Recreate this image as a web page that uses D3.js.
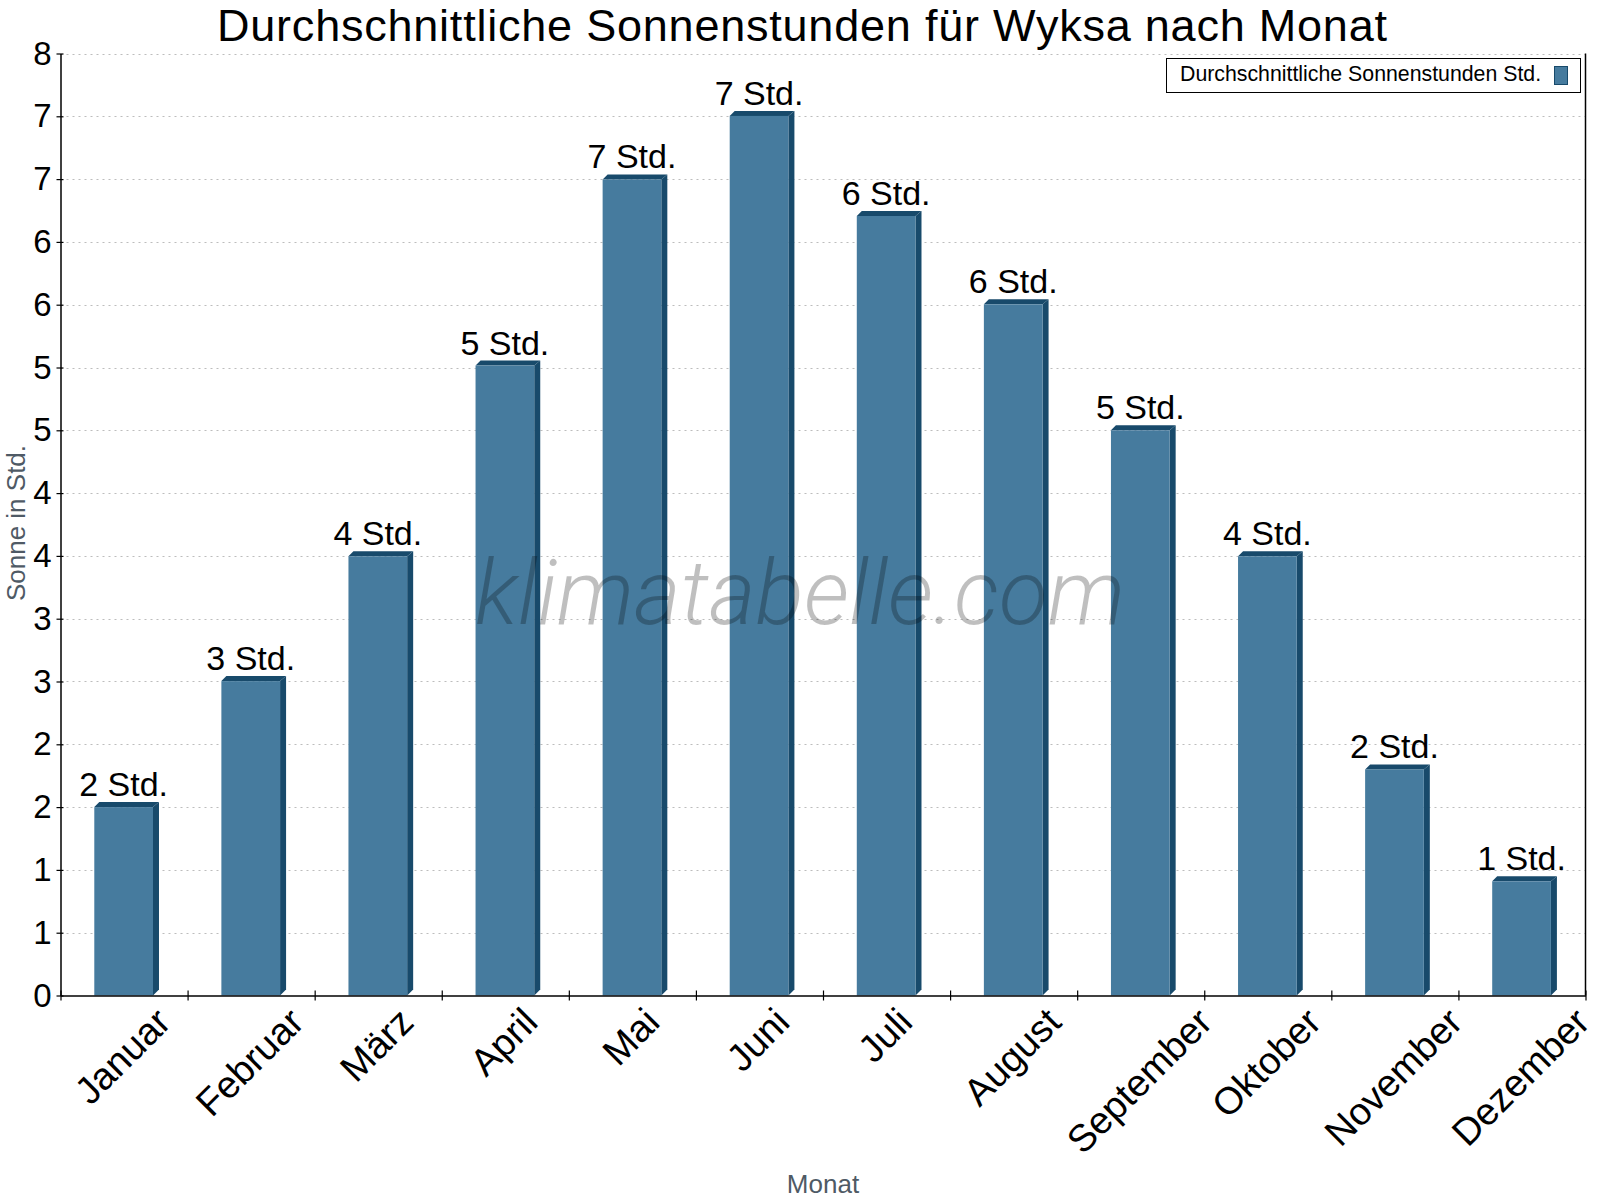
<!DOCTYPE html>
<html>
<head>
<meta charset="utf-8">
<title>Sonnenstunden Wyksa</title>
<script src="https://cdn.jsdelivr.net/npm/d3@7"></script>
<style>
    body { margin: 0; background: #fff; }
    svg { display: block; font-family: "Liberation Sans", Arial, sans-serif; }
</style>
</head>
<body>
<div id="sun_chart"></div>
<script>
// Daten
var months = ['Januar', 'Februar', 'März', 'April', 'Mai', 'Juni', 'Juli', 'August', 'September', 'Oktober', 'November', 'Dezember'];
var sunHours = [1.6, 2.67, 3.73, 5.35, 6.93, 7.47, 6.62, 5.87, 4.8, 3.73, 1.92, 0.97];
var valueLabels = ['2 Std.', '3 Std.', '4 Std.', '5 Std.', '7 Std.', '7 Std.', '6 Std.', '6 Std.', '5 Std.', '4 Std.', '2 Std.', '1 Std.'];
var yTickValues = [0, 0.5333, 1.0667, 1.6, 2.1333, 2.6667, 3.2, 3.7333, 4.2667, 4.8, 5.3333, 5.8667, 6.4, 6.9333, 7.4667, 8];

var W = 1600, H = 1200;
var plotLeft = 60.5, plotRight = 1585.5, plotTop = 53.5, plotBottom = 995.5;
var frontColor = '#467b9e', sideColor = '#184a6b';
var depth = 6;

var svg = d3.select('#sun_chart').append('svg')
    .attr('width', W)
    .attr('height', H);

var x = d3.scaleBand().domain(months).range([plotLeft, plotRight]).padding(0);
var xb = d3.scaleLinear().domain([0, 12]).range([plotLeft, plotRight]);
var y = d3.scaleLinear().domain([0, 8]).range([plotBottom, plotTop]);

// gridlines
svg.append('g').selectAll('line')
    .data(yTickValues.filter(function (d) { return d > 0; }))
    .join('line')
    .attr('x1', plotLeft).attr('x2', plotRight)
    .attr('y1', function (d) { return Math.round(y(d)) + 0.5; })
    .attr('y2', function (d) { return Math.round(y(d)) + 0.5; })
    .attr('stroke', '#bdbdbd')
    .attr('stroke-dasharray', '2,4');

// bars (3D)
var barW = 58.7;
var bars = svg.append('g').selectAll('g')
    .data(months)
    .join('g');

bars.each(function (m, i) {
    var g = d3.select(this);
    var cx = x(m) + x.bandwidth() / 2 - 0.4;
    var x0 = cx - barW / 2, x1 = cx + barW / 2;
    var yt = y(sunHours[i]), yb = y(0);
    g.append('polygon')
        .attr('points', [[x1, yt], [x1 + depth, yt - depth + 1], [x1 + depth, yb - depth], [x1, yb]].join(' '))
        .attr('fill', sideColor);
    g.append('polygon')
        .attr('points', [[x0, yt], [x0 + depth - 1, yt - depth + 1], [x1 + depth, yt - depth + 1], [x1, yt]].join(' '))
        .attr('fill', sideColor);
    g.append('rect')
        .attr('x', x0).attr('y', yt)
        .attr('width', barW).attr('height', yb - yt)
        .attr('fill', frontColor);
    g.append('text')
        .attr('x', cx)
        .attr('y', yt - 11)
        .attr('text-anchor', 'middle')
        .attr('font-size', 34)
        .attr('fill', '#000')
        .text(valueLabels[i]);
});

// watermark (over the bars)
svg.append('text')
    .attr('x', 800)
    .attr('y', 624)
    .attr('text-anchor', 'middle')
    .attr('font-family', 'Roboto, sans-serif')
    .attr('font-weight', 300)
    .attr('font-style', 'italic')
    .attr('font-size', 90)
    .attr('textLength', 650)
    .attr('lengthAdjust', 'spacingAndGlyphs')
    .attr('fill', '#000')
    .attr('fill-opacity', 0.25)
    .text('klimatabelle.com');

// y axis
var yAxis = svg.append('g')
    .attr('transform', 'translate(' + plotLeft + ',0)')
    .call(d3.axisLeft(y).tickValues(yTickValues).tickFormat(d3.format('.0f')).tickSize(4).tickPadding(5).tickSizeOuter(0));
yAxis.select('.domain').attr('stroke', '#000').attr('stroke-width', 1.5);
yAxis.selectAll('.tick line').attr('x1', 3).attr('x2', -4).attr('stroke', '#000').attr('stroke-width', 1.2);
yAxis.selectAll('.tick text').attr('font-size', 33).attr('font-family', '"Liberation Sans", Arial, sans-serif').attr('fill', '#000');

// x axis
var xAxis = svg.append('g')
    .attr('transform', 'translate(0,' + plotBottom + ')')
    .call(d3.axisBottom(xb).tickValues(d3.range(13)).tickFormat('').tickSize(5).tickSizeOuter(0));
xAxis.select('.domain').attr('stroke', '#000').attr('stroke-width', 1.5);
xAxis.selectAll('.tick line').attr('y1', -5).attr('y2', 5).attr('stroke', '#000').attr('stroke-width', 1.2);

// rechter Rand
svg.append('line')
    .attr('x1', plotRight).attr('x2', plotRight)
    .attr('y1', plotTop).attr('y2', plotBottom)
    .attr('stroke', '#000').attr('stroke-width', 1.5);

// x labels, rotated -45, box centered under the band
var xLabelSize = 38, labelTop = 1005;
svg.append('g').selectAll('text')
    .data(months)
    .join('text')
    .attr('text-anchor', 'middle')
    .attr('font-size', xLabelSize)
    .attr('fill', '#000')
    .attr('dy', xLabelSize * 0.36)
    .text(function (d) { return d; })
    .each(function (d) {
        var L = this.getComputedTextLength();
        var half = 0.7071 * (L + xLabelSize * 0.72) / 2;
        var cx = x(d) + x.bandwidth() / 2 - 2;
        var cy = labelTop + half;
        d3.select(this).attr('transform', 'translate(' + cx + ',' + cy + ') rotate(-45)');
    });

// titles
svg.append('text')
    .attr('x', 802).attr('y', 41)
    .attr('text-anchor', 'middle')
    .attr('font-size', 45)
    .attr('textLength', 1170)
    .attr('lengthAdjust', 'spacing')
    .attr('fill', '#000')
    .text('Durchschnittliche Sonnenstunden für Wyksa nach Monat');

svg.append('text')
    .attr('transform', 'translate(25,523) rotate(-90)')
    .attr('text-anchor', 'middle')
    .attr('font-size', 26)
    .attr('fill', '#4f5a65')
    .text('Sonne in Std.');

svg.append('text')
    .attr('x', 823).attr('y', 1193)
    .attr('text-anchor', 'middle')
    .attr('font-size', 26)
    .attr('fill', '#4f5a65')
    .text('Monat');

// legend
var legend = svg.append('g');
legend.append('rect')
    .attr('x', 1166.5).attr('y', 58.5)
    .attr('width', 414).attr('height', 34)
    .attr('fill', '#fff').attr('stroke', '#000').attr('stroke-width', 1);
legend.append('text')
    .attr('x', 1180).attr('y', 81)
    .attr('font-size', 21.3)
    .attr('fill', '#000')
    .text('Durchschnittliche Sonnenstunden Std.');
legend.append('rect')
    .attr('x', 1554.5).attr('y', 66.5)
    .attr('width', 13).attr('height', 18)
    .attr('fill', frontColor).attr('stroke', sideColor).attr('stroke-width', 1);
</script>
</body>
</html>
